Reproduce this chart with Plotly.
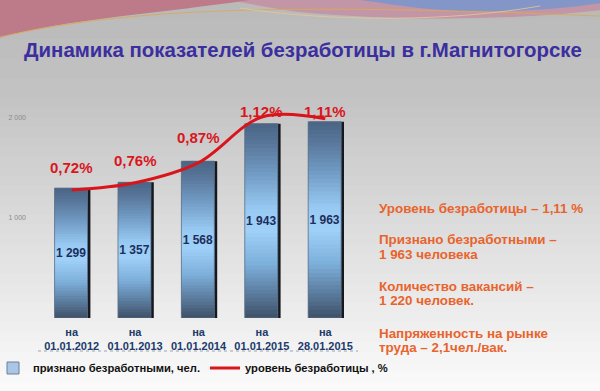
import plotly.graph_objects as go

# ---------------- data ----------------
categories = ["на<br>01.01.2012", "на<br>01.01.2013", "на<br>01.01.2014",
              "на<br>01.01.2015", "на<br>28.01.2015"]
unemployed = [1299, 1357, 1568, 1943, 1963]          # признано безработными, чел.
rate_pct = [0.72, 0.76, 0.87, 1.12, 1.11]            # уровень безработицы, %
y_tick_vals = [1000, 2000]
y_tick_text = ["1 000", "2 000"]
vacancies = 1220
tension = "2,1"

title_text = "Динамика показателей безработицы в г.Магнитогорске"
bar_name = "признано безработными, чел."
line_name = "уровень безработицы , %"

# ---------------- geometry helpers (pixel -> paper) ----------------
W, H = 600, 391
L, R, T, B = 40, 243, 100, 73
PW, PH = W - L - R, H - T - B


def px(x):
    return (x - L) / PW


def py(y):
    return (H - B - y) / PH


def fmt_int(v):
    return f"{v:,}".replace(",", " ")


def fmt_pct(v):
    return f"{v:.2f}".replace(".", ",") + "%"


def lerp_color(c1, c2, t):
    a = [int(c1[i:i + 2], 16) for i in (1, 3, 5)]
    b = [int(c2[i:i + 2], 16) for i in (1, 3, 5)]
    return "rgb({},{},{})".format(*[round(a[k] + (b[k] - a[k]) * t) for k in range(3)])


def scale_color(stops, t):
    for (t0, c0), (t1, c1) in zip(stops, stops[1:]):
        if t0 <= t <= t1:
            return lerp_color(c0, c1, (t - t0) / (t1 - t0) if t1 > t0 else 0)
    return stops[-1][1]


FONT = "Liberation Sans, Arial, sans-serif"
fig = go.Figure()

# shadow (dark right edge) behind bars
fig.add_trace(go.Bar(
    x=categories, y=unemployed, width=0.54, offset=-0.245,
    marker=dict(color="#15181e", line=dict(width=0)),
    showlegend=False, hoverinfo="skip"))

# gradient bars: horizontal bands stacked by fraction of each bar (bottom -> top)
bar_stops = [(0.0, "#3e5068"), (0.1, "#557393"), (0.28, "#7eb0dc"), (0.45, "#9ed0f8"),
             (0.56, "#98caf3"), (0.75, "#7099c2"), (0.9, "#587699"), (1.0, "#4a6485")]
N = 48
for i in range(N):
    f0 = i / N
    col = scale_color(bar_stops, (i + 0.5) / N)
    h = 1.8 / N if i < N - 1 else 1.0 / N   # slight overlap hides seams
    fig.add_trace(go.Bar(
        x=categories, y=[v * h for v in unemployed],
        base=[v * f0 for v in unemployed],
        width=0.52, offset=-0.27,
        marker=dict(color=col, line=dict(width=0)),
        showlegend=False, hoverinfo="skip"))

# outline + value labels
fig.add_trace(go.Bar(
    x=categories, y=unemployed, width=0.52, offset=-0.27,
    name=bar_name,
    marker=dict(color="rgba(0,0,0,0)", line=dict(color="#5d6f86", width=0.8)),
    text=[fmt_int(v) for v in unemployed], textposition="inside",
    insidetextanchor="middle", constraintext="none", textangle=0,
    textfont=dict(family=FONT, size=12, color="#1d2f5c", weight="bold"),
    showlegend=False, hoverinfo="skip"))

# legend-only bar entry
fig.add_trace(go.Bar(
    x=[None], y=[None], name=bar_name,
    marker=dict(color="#a9c6e6", line=dict(color="#6d7f95", width=1)),
    showlegend=True))

# unemployment rate line
fig.add_trace(go.Scatter(
    x=categories, y=rate_pct, yaxis="y2", mode="lines", name=line_name,
    line=dict(color="#d9151b", width=3, shape="spline", smoothing=1.0),
    hoverinfo="skip"))

# percent labels
label_shift = [23, 22, 25, 5, 7]
for c, v, s in zip(categories, rate_pct, label_shift):
    fig.add_annotation(x=c, y=v, xref="x", yref="y2", text=fmt_pct(v),
                       showarrow=False, yshift=s, yanchor="middle",
                       font=dict(family=FONT, size=15, color="#d9161c", weight="bold"))

# ---------------- background ----------------
bg_stops = [(0.0, "#b9b9b9"), (0.25, "#c3c3c3"), (0.6, "#dedede"), (1.0, "#fbfbfb")]
shapes = []
NB = 40
for i in range(NB):
    y0 = H * i / NB
    y1 = H * (i + 1) / NB + 1
    shapes.append(dict(type="rect", xref="paper", yref="paper",
                       x0=px(-2), x1=px(W + 2), y0=py(y1), y1=py(y0 - (2 if i == 0 else 0)),
                       fillcolor=scale_color(bg_stops, (i + 0.5) / NB),
                       line=dict(width=0), layer="below"))


def path(points_px, close=True):
    d = ""
    for cmd, *pts in points_px:
        d += cmd
        d += " ".join(f"{px(pts[j]):.4f},{py(pts[j + 1]):.4f}" for j in range(0, len(pts), 2))
    return d + (" Z" if close else "")


# top-left red swoosh
shapes.append(dict(type="path", xref="paper", yref="paper", layer="below",
                   path=path([("M", -2, -2), ("L", 250, -2), ("L", 250, 0),
                              ("C", 170, 12, 60, 20, -2, 38)]),
                   fillcolor="rgba(190,100,120,0.75)", line=dict(width=0)))
# top-right pink band
shapes.append(dict(type="path", xref="paper", yref="paper", layer="below",
                   path=path([("M", 230, -2), ("L", 602, -2), ("L", 602, 10),
                              ("C", 500, 22, 380, 20, 300, 12), ("C", 270, 8, 250, 4, 230, 0)]),
                   fillcolor="rgba(200,120,150,0.55)", line=dict(width=0)))
# top-right blue band
shapes.append(dict(type="path", xref="paper", yref="paper", layer="below",
                   path=path([("M", 360, -2), ("L", 602, -2), ("L", 602, 3),
                              ("C", 540, 12, 470, 14, 420, 8), ("C", 395, 5, 375, 2, 360, 0)]),
                   fillcolor="rgba(110,150,210,0.75)", line=dict(width=0)))
# thin gold lines
shapes.append(dict(type="path", xref="paper", yref="paper", layer="below",
                   path=path([("M", 0, 37), ("C", 120, 10, 260, 2, 600, 16)], close=False),
                   line=dict(color="rgba(215,170,90,0.9)", width=1)))
shapes.append(dict(type="path", xref="paper", yref="paper", layer="below",
                   path=path([("M", 240, 8), ("C", 330, 22, 450, 22, 540, 6)], close=False),
                   line=dict(color="rgba(230,200,150,0.8)", width=1)))

# dashed line under category labels
shapes.append(dict(type="line", xref="paper", yref="paper",
                   x0=px(38), x1=px(358), y0=py(351), y1=py(351),
                   line=dict(color="#9aa3b5", width=1, dash="dot")))

# right side info text
info_lines = [
    (208, "Уровень безработицы – " + f"{rate_pct[-1]:.2f}".replace(".", ",") + " %"),
    (240, "Признано безработными –"),
    (254, f"{fmt_int(unemployed[-1])} человека"),
    (286, "Количество вакансий –"),
    (300, f"{fmt_int(vacancies)} человек."),
    (333, "Напряженность на рынке"),
    (347, f"труда – {tension}чел./вак."),
]
for yy, txt in info_lines:
    fig.add_annotation(xref="paper", yref="paper", x=px(377), y=py(yy),
                       xanchor="left", yanchor="middle", showarrow=False, text=txt,
                       font=dict(family=FONT, size=13.4, color="#e8642c", weight="bold"))

fig.update_layout(
    width=W, height=H,
    margin=dict(l=L, r=R, t=T, b=B, autoexpand=False),
    paper_bgcolor="#d8d8d8", plot_bgcolor="rgba(0,0,0,0)",
    barmode="overlay",
    shapes=shapes,
    title=dict(text=title_text, x=24 / W, xanchor="left", xref="container",
               y=1 - 50 / H, yanchor="middle", yref="container",
               font=dict(family=FONT, size=20.4, color="#3b2e9e", weight="bold")),
    xaxis=dict(showgrid=False, showline=False, zeroline=False, ticks="",
               tickfont=dict(family=FONT, size=11, color="#203a6a", weight="bold"),
               ticklabelstandoff=6, range=[-0.5, 4.5], automargin=False),
    yaxis=dict(range=[0, 2180], showgrid=False, zeroline=False, showline=False,
               tickvals=y_tick_vals, ticktext=y_tick_text, ticks="",
               tickfont=dict(family=FONT, size=7, color="#8a8a8a"),
               ticklabelstandoff=13, automargin=False),
    yaxis2=dict(range=[0.019, 1.213], overlaying="y", side="right", visible=False),
    legend=dict(orientation="h", xref="paper", yref="paper",
                x=px(393), xanchor="right", y=py(368), yanchor="middle",
                bgcolor="rgba(0,0,0,0)", itemclick=False, itemwidth=30,
                font=dict(family="Liberation Sans Narrow, Arial Narrow, " + FONT,
                          size=11.2, color="#111111", weight="bold"),
                tracegroupgap=0),
    showlegend=True,
)

fig.write_html("out.html", config={"displayModeBar": False},
               post_script="document.body.style.margin='0';document.body.style.overflow='hidden';")
